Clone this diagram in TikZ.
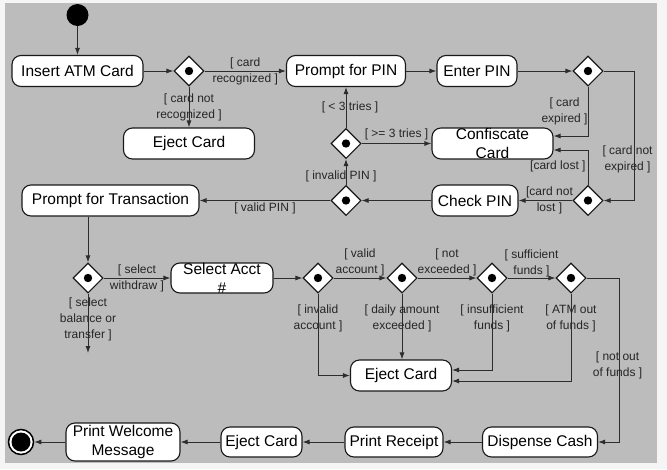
\documentclass[tikz,border=0pt]{standalone}
\usepackage{fontspec}
\setmainfont{Liberation Sans}
\usetikzlibrary{shapes.geometric,arrows.meta}
\definecolor{panel}{RGB}{188,188,188}
\definecolor{wire}{RGB}{45,45,45}

\begin{document}
\begin{tikzpicture}[x=1pt, y=-1pt,
  act/.style={draw=black!90, fill=white, line width=1.1pt, rounded corners=9pt,
    minimum height=31pt, inner sep=0pt, font=\fontsize{15.5}{19}\selectfont, align=center},
  dec/.style={diamond, draw=black!90, fill=white, line width=1.1pt, minimum size=30pt,
    inner sep=0pt, path picture={\fill[black] (path picture bounding box.center) circle (4.2pt);}},
  flow/.style={draw=wire, line width=0.9pt, -{Latex[length=7pt,width=5pt]}},
  lbl/.style={font=\fontsize{12}{16}\selectfont, text=black!85, align=center, inner sep=1pt}]

  \fill[gray!8] (0,0) rectangle (667,469);
  \fill[panel] (5,3) rectangle (657,463);

  \node[circle, fill=black, minimum size=22pt, inner sep=0pt] (init) at (77.5,15) {};
  \node[act, minimum width=131pt] (ins) at (77.5,71) {Insert ATM Card};
  \node[dec] (d1) at (189,71) {};
  \node[act, minimum width=119pt] (pin) at (346,71) {Prompt for PIN};
  \node[act, minimum width=80pt] (ent) at (477,71) {Enter PIN};
  \node[dec] (d2) at (588,71) {};

  \node[act, minimum width=131pt] (ejT) at (189,143.5) {Eject Card};
  \node[dec] (d3) at (346,143.5) {};
  \node[act, minimum width=121pt] (conf) at (492.5,143.5) {};
  \node[font=\fontsize{15.5}{19}\selectfont, align=center] (confTxt) at (conf) {Confiscate\\Card};

  \node[act, minimum width=177pt] (pt) at (110.5,200.5) {Prompt for Transaction};
  \node[dec] (d4) at (346,200.5) {};
  \node[act, minimum width=86pt] (chk) at (475,200.5) {Check PIN};
  \node[dec] (d5) at (588,200.5) {};

  \node[dec] (d6) at (88,278) {};
  \node[act, minimum width=102pt, minimum height=30pt] (sel) at (222,278) {};
  \node[font=\fontsize{15.5}{19}\selectfont, align=center] (selTxt) at (sel) {Select Acct\\\#};
  \foreach \n/\x in {d7/318, d8/402, d9/492, d10/571}
    \node[dec] (\n) at (\x,278) {};
  \node[act, minimum width=101pt] (ejM) at (401,375.5) {Eject Card};

  \node[act, minimum width=115pt, minimum height=30pt] (disp) at (540,442) {Dispense Cash};
  \node[act, minimum width=98pt, minimum height=30pt] (rec) at (394,442) {Print Receipt};
  \node[act, minimum width=81pt, minimum height=30pt] (ejB) at (261.5,442) {Eject Card};
  \node[act, minimum width=114pt, minimum height=38pt] (wel) at (123,442) {Print Welcome\\Message};
  \node[circle, draw=black, line width=1.5pt, fill=white, minimum size=25pt, inner sep=0pt,
    path picture={\fill[black] (path picture bounding box.center) circle (9.5pt);}] (fin) at (21,442) {};
  \coordinate (other) at (88,353);

  \draw[flow] (init) -- (ins);
  \draw[flow] (ins) -- (d1);
  \draw[flow] (d1) -- node[lbl] (l1) {[ card\\recognized ]} (pin);
  \draw[flow] (d1) -- node[lbl] (l2) {[ card not\\recognized ]} (ejT);
  \draw[flow] (pin) -- (ent);
  \draw[flow] (ent) -- (d2);
  \draw[flow] (d2.south) |- node[lbl, pos=0.25, left, inner sep=0pt] (l3) {[ card\\expired ]} ([yshift=7.5pt]conf.east);
  \draw[flow] (d2.east) -- ++(31,0) |- node[lbl, pos=0.34, xshift=-7pt] (l4) {[ card not\\expired ]} (d5.east);
  \draw[flow] (d5.north) |- node[lbl, pos=0.26, left, inner sep=2pt] (l5) {[card lost ]} ([yshift=-6.5pt]conf.east);
  \draw[flow] (d5) -- node[lbl, xshift=4pt] (l6) {[card not\\lost ]} (chk);
  \draw[flow] (chk) -- (d4);
  \draw[flow] (d4) -- node[lbl, pos=0.32, xshift=-5pt] (l7) {[ invalid PIN ]} (d3);
  \draw[flow] (d3) -- node[lbl, xshift=4pt] (l8) {[ < 3 tries ]} (pin);
  \draw[flow] (d3) -- node[lbl, above, yshift=2pt] (l9) {[ >= 3 tries ]} (conf);
  \draw[flow] (d4) -- node[lbl, below, inner sep=2pt] (l10) {[ valid PIN ]} (pt);
  \draw[flow] (d6 |- pt.south) -- (d6);
  \draw[flow] (d6) -- node[lbl] (l11) {[ select\\withdraw ]} (sel);
  \draw[flow] (d6) -- node[lbl, pos=0.43] (l12) {[ select\\balance or\\transfer ]} (other);
  \draw[flow] (sel) -- (d7);
  \draw[flow] (d7) -- node[lbl, above, inner sep=2pt] (l13) {[ valid\\account ]} (d8);
  \draw[flow] (d8) -- node[lbl, above, inner sep=2pt] (l14) {[ not\\exceeded ]} (d9);
  \draw[flow] (d9) -- node[lbl, above] (l15) {[ sufficient\\funds ]} (d10);
  \draw[flow] (d7.south) |- node[lbl, pos=0.15] (l16) {[ invalid\\account ]} (ejM.west);
  \draw[flow] (d8.south) -- node[lbl, pos=0.37] (l17) {[ daily amount\\exceeded ]} (d8.south |- ejM.north);
  \draw[flow] (d9.south) |- node[lbl, pos=0.16] (l18) {[ insufficient\\funds ]} ([yshift=5.5pt]ejM.east);
  \draw[flow] (d10.south) |- node[lbl, pos=0.14] (l19) {[ ATM out\\of funds ]} ([yshift=-5.5pt]ejM.east);
  \draw[flow] (d10.east) -- ++(33,0) |- node[lbl, pos=0.265, xshift=-2pt] (l20) {[ not out\\of funds ]} (disp.east);
  \foreach \a/\b in {disp/rec, rec/ejB, ejB/wel, wel/fin}
    \draw[flow] (\a) -- (\b);
\end{tikzpicture}
\end{document}
